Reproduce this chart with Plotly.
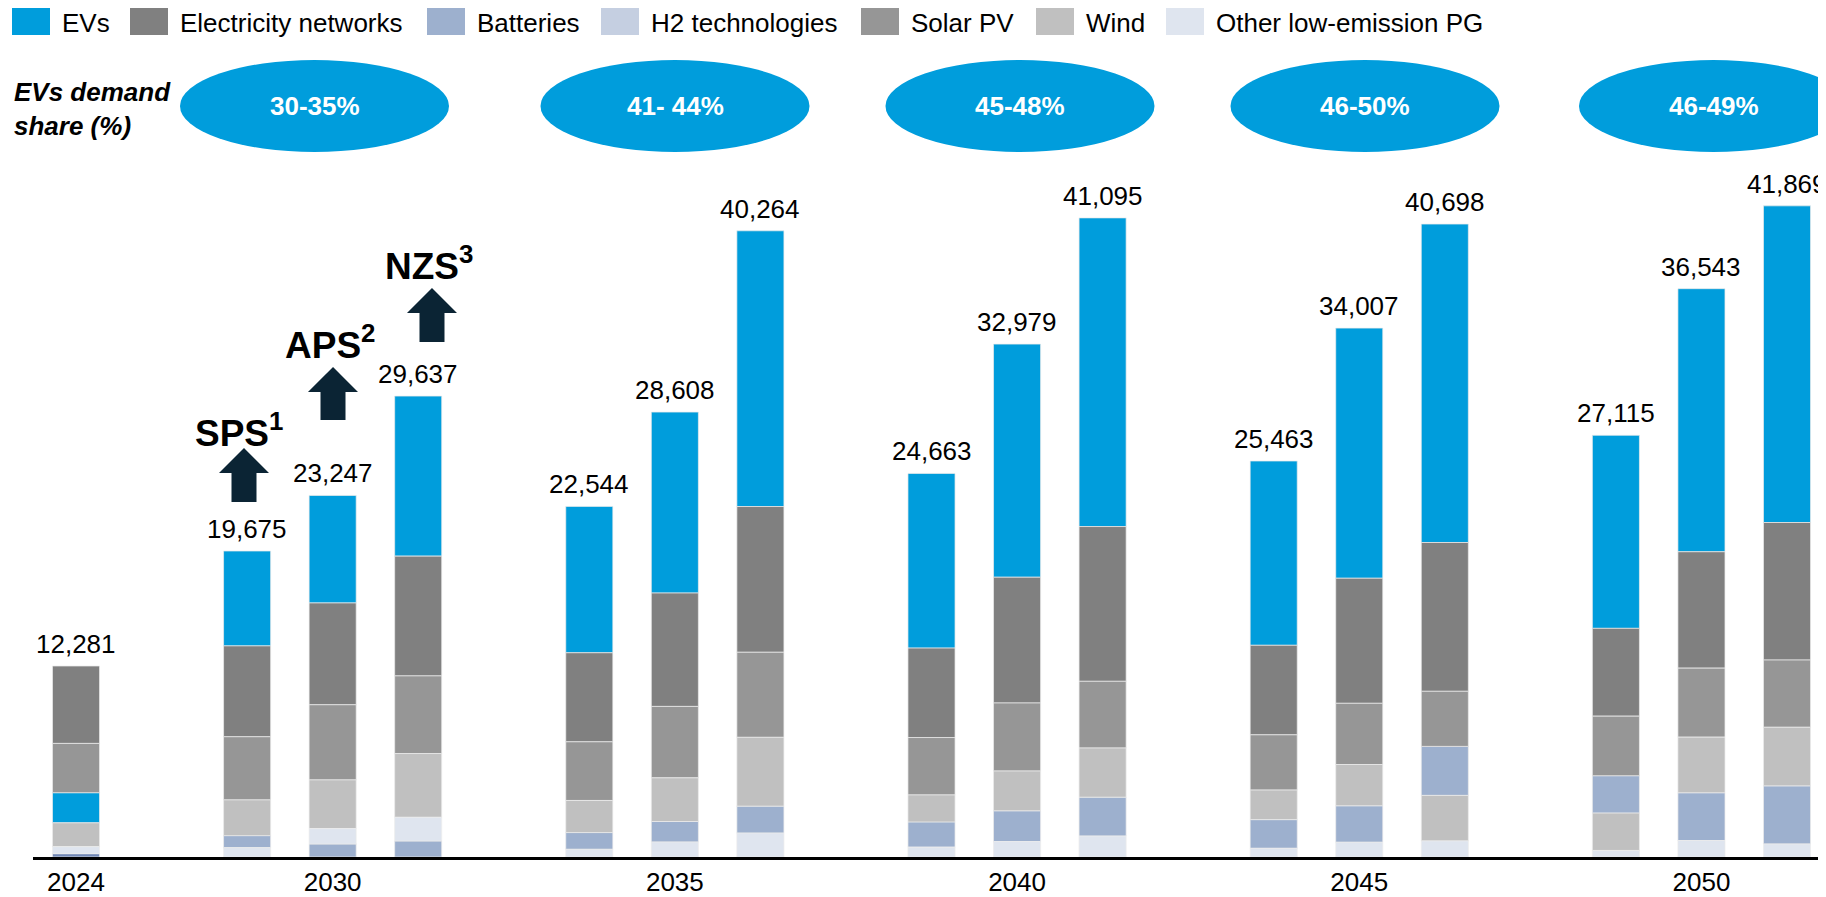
import plotly.graph_objects as go

# ---------------- data ----------------
years = ["2024", "2030", "2035", "2040", "2045", "2050"]
scenarios = [["2024"], ["SPS", "APS", "NZS"], ["SPS", "APS", "NZS"], ["SPS", "APS", "NZS"],
             ["SPS", "APS", "NZS"], ["SPS", "APS", "NZS"]]

series = ["EVs", "Electricity networks", "Batteries", "H2 technologies", "Solar PV", "Wind",
          "Other low-emission PG"]

evs       = [1940, 6100, 6911, 10292, 9412, 11635, 17729, 11230, 14989, 19847, 11850, 16083, 20475, 12413, 16917, 20361]
networks  = [4978, 5843, 6547, 7699, 5726, 7290, 9371, 5753, 8087, 9951, 5758, 8041, 9568, 5646, 7482, 8843]
batteries = [215, 773, 837, 1030, 1074, 1320, 1731, 1624, 1981, 2501, 1845, 2345, 3152, 2404, 3071, 3738]
h2        = [0] * 16
solar     = [3168, 4060, 4830, 4997, 3771, 4594, 5469, 3689, 4374, 4288, 3550, 3937, 3542, 3829, 4439, 4324]
wind      = [1530, 2298, 3134, 4096, 2065, 2806, 4425, 1734, 2558, 3161, 1901, 2652, 2929, 2404, 3573, 3766]
other     = [450, 601, 988, 1523, 496, 963, 1539, 633, 990, 1347, 559, 949, 1032, 419, 1061, 837]

# stacking order (bottom -> top) of each bar, as in the source
std = ["H2 technologies", "Other low-emission PG", "Batteries", "Wind", "Solar PV", "Electricity networks", "EVs"]
bat_first = ["H2 technologies", "Batteries", "Other low-emission PG", "Wind", "Solar PV", "Electricity networks", "EVs"]
wind_first = ["H2 technologies", "Other low-emission PG", "Wind", "Batteries", "Solar PV", "Electricity networks", "EVs"]
stack_order = [
    ["H2 technologies", "Batteries", "Other low-emission PG", "Wind", "EVs", "Solar PV", "Electricity networks"],
    std, bat_first, bat_first,
    std, std, std,
    std, std, std,
    std, std, wind_first,
    wind_first, std, std,
]

ev_share = ["30-35%", "41- 44%", "45-48%", "46-50%", "46-49%"]
scenario_labels = ["SPS<sup>1</sup>", "APS<sup>2</sup>", "NZS<sup>3</sup>"]

# ---------------- styles ----------------
colors = {
    "EVs": "#009ddc",
    "Electricity networks": "#808080",
    "Batteries": "#9db0ce",
    "H2 technologies": "#c5cfe1",
    "Solar PV": "#969696",
    "Wind": "#c0c0c0",
    "Other low-emission PG": "#dfe5ef",
}
FONT = "Arial, Liberation Sans, sans-serif"

values = {
    "EVs": evs, "Electricity networks": networks, "Batteries": batteries, "H2 technologies": h2,
    "Solar PV": solar, "Wind": wind, "Other low-emission PG": other,
}

# x slot positions: one empty slot between year groups
xpos = []
group_centers = []
slot = 0
for sc in scenarios:
    start = slot
    for _ in sc:
        xpos.append(slot)
        slot += 1
    group_centers.append((start + slot - 1) / 2)
    slot += 1

n = len(xpos)
totals = [sum(values[s][i] for s in series) for i in range(n)]

# bases from stacking order
bases = {s: [0] * n for s in series}
for i in range(n):
    acc = 0
    for s in stack_order[i]:
        bases[s][i] = acc
        acc += values[s][i]

fig = go.Figure()
for s in series:
    if not any(values[s]):
        continue
    col = colors[s]
    if s == "Batteries":
        col = ["#7087b5"] + [colors[s]] * (n - 1)
    fig.add_trace(go.Bar(
        x=xpos, y=values[s], base=bases[s], name=s, width=0.55,
        marker=dict(color=col, line=dict(color="rgba(235,235,235,0.9)", width=0.8)),
        showlegend=False, hoverinfo="name+y",
    ))

# ---------------- layout geometry ----------------
PAGE_OFF = 8                      # page body margin
WIDTH, HEIGHT = 1826 - PAGE_OFF, 897 - PAGE_OFF
L, R, T, B = 33 - PAGE_OFF, 0, 0, 40
PW, PH = WIDTH - L - R, HEIGHT - T - B
SLOT_PX, X0_PX = 85.55, 76        # page px of slot spacing and first bar centre
UNITS_PER_PX = 64.3


def pxx(xp):
    return (xp - PAGE_OFF - L) / PW


def pxy(yp):
    return 1 - (yp - PAGE_OFF - T) / PH


shapes = []
annotations = []

# total labels above bars
for xv, t in zip(xpos, totals):
    annotations.append(dict(x=xv, y=t, xref="x", yref="y", text=f"{t:,}", showarrow=False,
                            xanchor="center", yanchor="bottom", yshift=5,
                            font=dict(family=FONT, size=26, color="#000000")))

# custom legend
leg_sq = [12, 130, 427, 601, 861, 1036, 1166]
for s, x0 in zip(series, leg_sq):
    shapes.append(dict(type="rect", xref="paper", yref="paper", x0=pxx(x0), x1=pxx(x0 + 38),
                       y0=pxy(35), y1=pxy(7), fillcolor=colors[s], line=dict(width=0)))
    annotations.append(dict(xref="paper", yref="paper", x=pxx(x0 + 48), y=pxy(23), text=s,
                            showarrow=False, xanchor="left", yanchor="middle",
                            font=dict(family=FONT, size=26, color="#000000")))

# EV demand share label + ellipses
annotations.append(dict(xref="paper", yref="paper", x=pxx(12), y=pxy(109),
                        text="<b><i>EVs demand<br>share (%)</i></b>", showarrow=False,
                        xanchor="left", yanchor="middle", align="left",
                        font=dict(family=FONT, size=26, color="#000000")))
ell_centers = [314.5, 675, 1020, 1365, 1713.5]
for c, txt in zip(ell_centers, ev_share):
    shapes.append(dict(type="circle", xref="paper", yref="paper", x0=pxx(c - 134.5), x1=pxx(c + 134.5),
                       y0=pxy(152), y1=pxy(60), fillcolor="#009ddc", line=dict(width=0)))
    annotations.append(dict(xref="paper", yref="paper", x=pxx(c), y=pxy(106), text=f"<b>{txt}</b>",
                            showarrow=False, xanchor="center", yanchor="middle",
                            font=dict(family=FONT, size=26, color="#ffffff")))

# scenario arrows + labels
arrow_geo = [(244, 448, 502), (333, 367, 420), (432, 288, 342)]
label_geo = [(239, 430), (329.5, 342.5), (428.7, 264)]
for (cx, tip, bot), (lx, ly), lab in zip(arrow_geo, label_geo, scenario_labels):
    hb = tip + 25
    pts = [(cx, tip), (cx + 25, hb), (cx + 12.5, hb), (cx + 12.5, bot), (cx - 12.5, bot),
           (cx - 12.5, hb), (cx - 25, hb)]
    path = "M " + " L ".join(f"{pxx(a):.5f},{pxy(b):.5f}" for a, b in pts) + " Z"
    shapes.append(dict(type="path", xref="paper", yref="paper", path=path,
                       fillcolor="#0b2434", line=dict(width=0)))
    annotations.append(dict(xref="paper", yref="paper", x=pxx(lx), y=pxy(ly), text=f"<b>{lab}</b>",
                            showarrow=False, xanchor="center", yanchor="middle",
                            font=dict(family=FONT, size=37, color="#000000")))

x_lo = -(X0_PX - PAGE_OFF - L) / SLOT_PX
x_hi = x_lo + PW / SLOT_PX
y_hi = PH * UNITS_PER_PX

fig.update_layout(
    width=WIDTH, height=HEIGHT,
    margin=dict(l=L, r=R, t=T, b=B, autoexpand=False),
    plot_bgcolor="#ffffff", paper_bgcolor="#ffffff",
    barmode="overlay", showlegend=False,
    font=dict(family=FONT, color="#000000"),
    shapes=shapes, annotations=annotations,
    xaxis=dict(range=[x_lo, x_hi], tickmode="array", tickvals=group_centers, ticktext=years,
               showline=True, linecolor="#000000", linewidth=2.5, showgrid=False, zeroline=False,
               ticks="", tickfont=dict(family=FONT, size=26, color="#000000"), fixedrange=True),
    yaxis=dict(range=[0, y_hi], visible=False, showgrid=False, zeroline=False, fixedrange=True),
)

fig.write_html("out.html")
